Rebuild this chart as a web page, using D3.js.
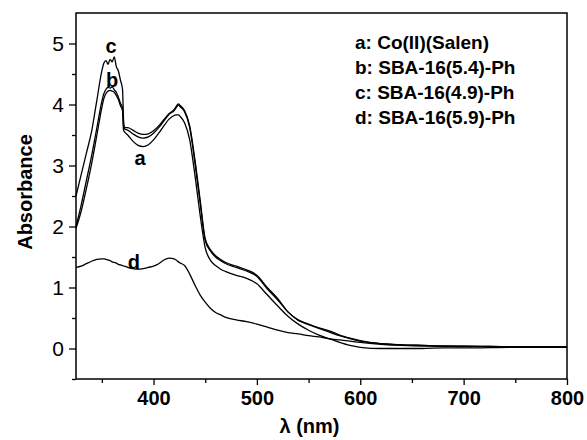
<!DOCTYPE html>
<html>
<head>
<meta charset="utf-8">
<script src="https://cdn.jsdelivr.net/npm/d3@7"></script>
<style>
  body { margin: 0; background: #fff; }
  text { font-family: "Liberation Sans", Arial, sans-serif; }
</style>
</head>
<body>
<script>
w = 587;
h = 440;

// wavelength grid (nm) shared by all spectra
var wavelengths = [325, 330, 335, 340, 345, 350, 352, 354, 356, 358, 360, 362, 364, 366, 368, 370, 371, 372,
    375, 380, 385, 390, 395, 400, 405, 410, 415, 420, 422, 424, 426, 430, 435, 440, 445, 450, 455, 460, 465, 470,
    480, 490, 500, 510, 520, 530, 540, 550, 560, 570, 580, 590, 600, 620, 640, 660, 680, 700, 750, 800];

var absA = [1.97, 2.25, 2.62, 3.02, 3.48, 3.95, 4.10, 4.18, 4.22, 4.23, 4.22, 4.20, 4.15, 4.08, 3.98, 3.90, 3.58, 3.55,
    3.50, 3.40, 3.33, 3.31, 3.34, 3.42, 3.53, 3.65, 3.76, 3.82, 3.83, 3.83, 3.80, 3.70, 3.42, 2.85, 2.20, 1.65, 1.45, 1.36, 1.30, 1.26,
    1.20, 1.15, 1.06, 0.88, 0.70, 0.53, 0.40, 0.30, 0.22, 0.16, 0.10, 0.05, 0.02, 0.00, 0.00, 0.00, 0.01, 0.01, 0.02, 0.02];

var absB = [2.00, 2.35, 2.75, 3.15, 3.60, 4.05, 4.18, 4.25, 4.28, 4.27, 4.29, 4.24, 4.20, 4.12, 4.02, 3.95, 3.65, 3.60,
    3.58, 3.52, 3.47, 3.45, 3.47, 3.53, 3.62, 3.73, 3.84, 3.90, 3.95, 3.99, 3.96, 3.88, 3.62, 3.05, 2.40, 1.77, 1.60, 1.50, 1.44, 1.39,
    1.33, 1.27, 1.18, 0.98, 0.80, 0.60, 0.46, 0.39, 0.33, 0.27, 0.21, 0.16, 0.12, 0.08, 0.06, 0.05, 0.04, 0.04, 0.03, 0.03];

var absC = [2.50, 2.85, 3.20, 3.55, 4.05, 4.55, 4.68, 4.72, 4.66, 4.74, 4.70, 4.78, 4.62, 4.55, 4.40, 4.25, 3.75, 3.62,
    3.62, 3.58, 3.53, 3.51, 3.52, 3.57, 3.65, 3.75, 3.85, 3.92, 3.97, 4.01, 3.98, 3.90, 3.65, 3.10, 2.45, 1.80, 1.62, 1.52, 1.46, 1.41,
    1.35, 1.29, 1.20, 1.00, 0.82, 0.60, 0.47, 0.40, 0.34, 0.29, 0.22, 0.17, 0.13, 0.08, 0.06, 0.05, 0.04, 0.04, 0.03, 0.03];

var absD = [1.33, 1.35, 1.39, 1.43, 1.46, 1.47, 1.47, 1.46, 1.45, 1.44, 1.42, 1.41, 1.40, 1.38, 1.37, 1.36, 1.35, 1.35,
    1.33, 1.31, 1.30, 1.31, 1.33, 1.35, 1.39, 1.45, 1.48, 1.47, 1.45, 1.42, 1.40, 1.36, 1.22, 1.04, 0.88, 0.76, 0.66, 0.59, 0.55, 0.51,
    0.47, 0.44, 0.40, 0.35, 0.30, 0.26, 0.24, 0.21, 0.19, 0.16, 0.14, 0.12, 0.10, 0.07, 0.05, 0.04, 0.04, 0.03, 0.03, 0.03];

var legendLines = ["a: Co(II)(Salen)", "b: SBA-16(5.4)-Ph", "c: SBA-16(4.9)-Ph", "d: SBA-16(5.9)-Ph"];
// where each curve letter sits (nm, absorbance)
var curveLabels = [
    { name: "a", nm: 387, abs: 3.12 },
    { name: "b", nm: 360, abs: 4.40 },
    { name: "c", nm: 359, abs: 4.96 },
    { name: "d", nm: 381, abs: 1.42 }
];
var xTicks = [400, 500, 600, 700, 800];
var yTicks = [0, 1, 2, 3, 4, 5];

var series = [absA, absB, absC, absD].map(function (vals) {
    return vals.map(function (v, i) { return [wavelengths[i], v]; });
});

var mLeft = 76, mRight = 567, mTop = 13, mBottom = 379;

var xScale = d3.scaleLinear().domain([325, 800]).range([mLeft, mRight]);
var yScale = d3.scaleLinear().domain([-0.5, 5.5]).range([mBottom, mTop]);

var svg = d3.select("body")
    .append("svg")
    .attr("width", w)
    .attr("height", h);

// curves
var line = d3.line()
    .x(function (d) { return xScale(d[0]); })
    .y(function (d) { return yScale(d[1]); })
    .curve(d3.curveMonotoneX);

svg.selectAll("path.curve")
    .data(series)
    .enter()
    .append("path")
    .attr("class", "curve")
    .attr("d", line)
    .attr("fill", "none")
    .attr("stroke", "#000")
    .attr("stroke-width", 1.3);

// minor ticks
var xMinor = d3.axisBottom(xScale).tickValues(d3.range(350, 800, 100)).tickSize(4).tickFormat("");
var yMinor = d3.axisLeft(yScale).tickValues([-0.5, 0.5, 1.5, 2.5, 3.5, 4.5]).tickSize(4).tickFormat("");
svg.append("g").attr("transform", "translate(0," + mBottom + ")").call(xMinor);
svg.append("g").attr("transform", "translate(" + mLeft + ",0)").call(yMinor);

// major ticks
var xAxis = d3.axisBottom(xScale).tickValues(xTicks).tickSize(6).tickPadding(6);
var yAxis = d3.axisLeft(yScale).tickValues(yTicks).tickFormat(d3.format("d")).tickSize(7).tickPadding(5);
var gx = svg.append("g").attr("transform", "translate(0," + mBottom + ")").call(xAxis);
var gy = svg.append("g").attr("transform", "translate(" + mLeft + ",0)").call(yAxis);

gx.selectAll("text").style("font-size", "20px").style("font-weight", "bold").attr("fill", "#000");
gy.selectAll("text").style("font-size", "21px").attr("fill", "#000");
svg.selectAll(".domain").remove();
svg.selectAll(".tick line").attr("stroke", "#000").attr("stroke-width", 1.3);

// frame
svg.append("rect")
    .attr("x", mLeft)
    .attr("y", mTop)
    .attr("width", mRight - mLeft)
    .attr("height", mBottom - mTop)
    .attr("fill", "none")
    .attr("stroke", "#000")
    .attr("stroke-width", 1.5);

// axis titles
svg.append("text")
    .attr("transform", "translate(25," + ((mTop + mBottom) / 2 - 4) + ") rotate(-90)")
    .attr("text-anchor", "middle")
    .attr("dy", "0.35em")
    .style("font-size", "20px")
    .style("font-weight", "bold")
    .text("Absorbance");

svg.append("text")
    .attr("x", (mLeft + mRight) / 2 - 12)
    .attr("y", 433)
    .attr("text-anchor", "middle")
    .style("font-size", "20px")
    .style("font-weight", "bold")
    .text("λ (nm)");

// curve letters
svg.selectAll("text.clabel")
    .data(curveLabels)
    .enter()
    .append("text")
    .attr("class", "clabel")
    .attr("x", function (d) { return xScale(d.nm); })
    .attr("y", function (d) { return yScale(d.abs); })
    .attr("text-anchor", "middle")
    .attr("dy", "0.35em")
    .style("font-size", "20px")
    .style("font-weight", "bold")
    .text(function (d) { return d.name; });

// legend text
svg.selectAll("text.legend")
    .data(legendLines)
    .enter()
    .append("text")
    .attr("class", "legend")
    .attr("x", 355)
    .attr("y", function (d, i) { return 49 + i * 25; })
    .style("font-size", "19px")
    .style("font-weight", "bold")
    .text(function (d) { return d; });
</script>
</body>
</html>
